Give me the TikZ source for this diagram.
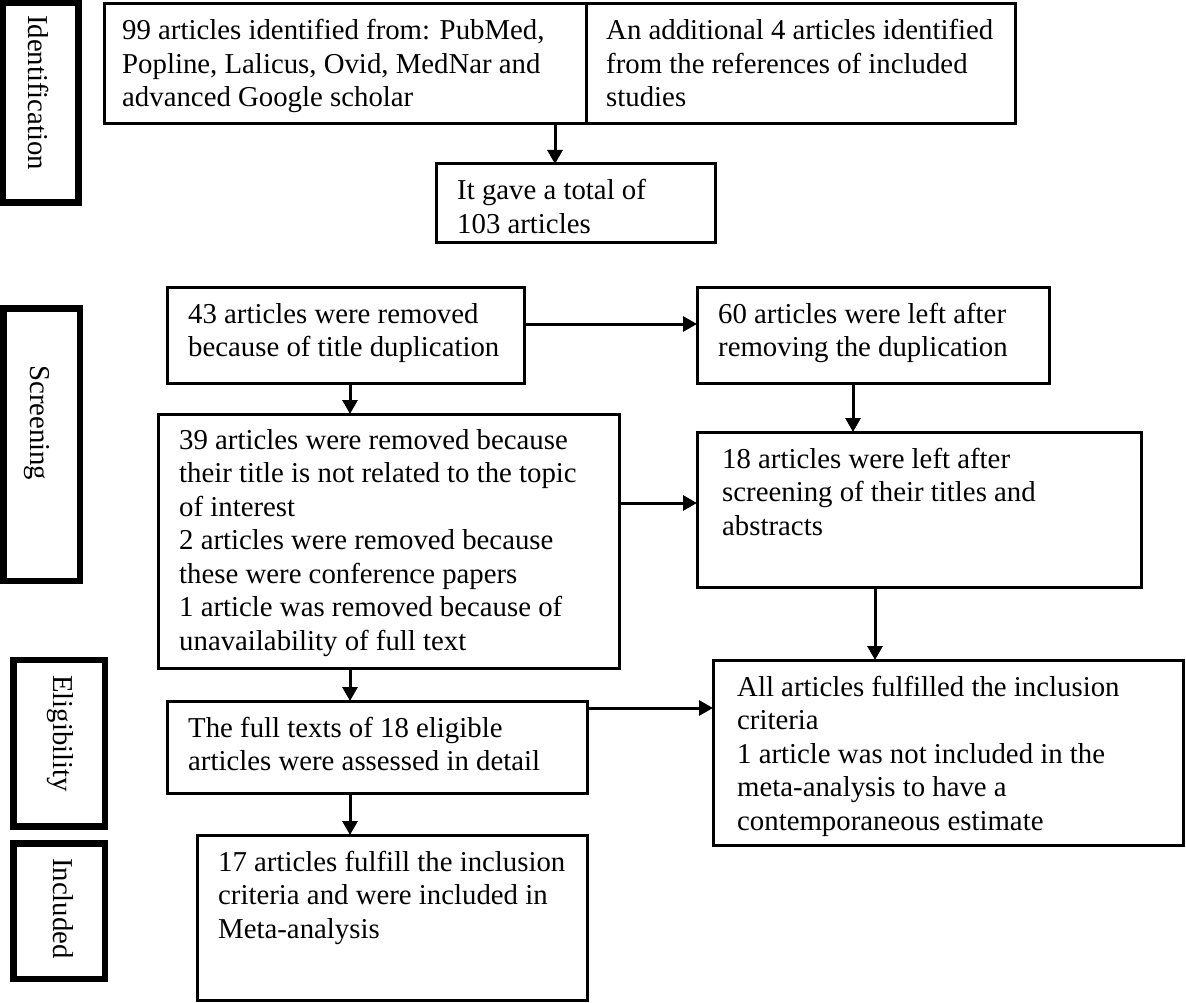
\documentclass[tikz,border=0pt]{standalone}
\usepackage{fontspec}
\setmainfont{Liberation Serif}
\usetikzlibrary{arrows.meta}
\newcommand{\ml}[1]{\begin{tabular}[t]{@{}l@{}}#1\end{tabular}}
\begin{document}
\begin{tikzpicture}[x=1pt,y=-1pt,
  font=\fontsize{28.8}{33.5}\selectfont,
  box/.style={draw, line width=3pt, rectangle, inner sep=0pt, outer sep=0pt},
  sidebox/.style={draw, line width=6.5pt, rectangle, inner sep=0pt, outer sep=0pt},
  txt/.style={anchor=base west, inner sep=0pt},
  side/.style={anchor=base west, inner sep=0pt, rotate=-90},
  arr/.style={line width=3pt, -{Triangle[length=14pt,width=15pt]}}]
\useasboundingbox (0,0) rectangle (1186,1003);

% side stage boxes
\node[sidebox, minimum width=76pt, minimum height=200pt] (sID) at (40.5,102.5) {};
\node[sidebox, minimum width=76.5pt, minimum height=272.5pt] (sSC) at (41.75,444.75) {};
\node[sidebox, minimum width=91.5pt, minimum height=166.5pt] (sEL) at (59.25,743.25) {};
\node[sidebox, minimum width=91.5pt, minimum height=135.5pt] (sIN) at (59.25,911.25) {};
\node[side] (lID) at (28,15) {Identification};
\node[side] (lSC) at (30,365) {Screening};
\node[side] (lEL) at (53,675) {Eligibility};
\node[side] (lIN) at (53,858) {Included};

% main boxes
\node[box, minimum width=482pt, minimum height=120pt] (B1) at (345,64) {};
\node[box, minimum width=429pt, minimum height=120pt] (B2) at (800.5,64) {};
\node[box, minimum width=279pt, minimum height=79pt] (B3) at (575.5,203.5) {};
\node[box, minimum width=357pt, minimum height=96pt] (B4) at (345.5,335) {};
\node[box, minimum width=352pt, minimum height=96pt] (B5) at (873,335) {};
\node[box, minimum width=461pt, minimum height=254pt] (B6) at (388.5,541) {};
\node[box, minimum width=444pt, minimum height=155pt] (B7) at (919,509.5) {};
\node[box, minimum width=470pt, minimum height=185pt] (B8) at (948,752.5) {};
\node[box, minimum width=420pt, minimum height=92pt] (B9) at (377,747) {};
\node[box, minimum width=390pt, minimum height=165pt] (B10) at (392,917.5) {};

% texts
\node[txt] (t1) at (122,40) {\ml{99 articles identified from: PubMed,\\Popline, Lalicus, Ovid, MedNar and\\advanced Google scholar}};
\node[txt] (t2) at (606,40) {\ml{An additional 4 articles identified\\from the references of included\\studies}};
\node[txt] (t3) at (457,200) {\ml{It gave a total of\\103 articles}};
\node[txt] (t4) at (188,323) {\ml{43 articles were removed\\because of title duplication}};
\node[txt] (t5) at (718,323) {\ml{60 articles were left after\\removing the duplication}};
\node[txt] (t6) at (179,449) {\ml{39 articles were removed because\\their title is not related to the topic\\of interest\\2 articles were removed because\\these were conference papers\\1 article was removed because of\\unavailability of full text}};
\node[txt] (t7) at (722,468) {\ml{18 articles were left after\\screening of their titles and\\abstracts}};
\node[txt] (t8) at (737,696) {\ml{All articles fulfilled the inclusion\\criteria\\1 article was not included in the\\meta-analysis to have a\\contemporaneous estimate}};
\node[txt] (t9) at (188,737) {\ml{The full texts of 18 eligible\\articles were assessed in detail}};
\node[txt] (t10) at (218,871) {\ml{17 articles fulfill the inclusion\\criteria and were included in\\Meta-analysis}};

% connector guides
\coordinate (xa) at (555,0);
\coordinate (xb) at (350,0);
\coordinate (xc) at (853,0);
\coordinate (xd) at (875,0);
\coordinate (ya) at (0,324);
\coordinate (yb) at (0,503);
\coordinate (yc) at (0,708);

\draw[arr] (B1.south -| xa) -- (B3.north -| xa);
\draw[arr] (B4.east |- ya) -- (B5.west |- ya);
\draw[arr] (B4.south -| xb) -- (B6.north -| xb);
\draw[arr] (B5.south -| xc) -- (B7.north -| xc);
\draw[arr] (B6.east |- yb) -- (B7.west |- yb);
\draw[arr] (B7.south -| xd) -- (B8.north -| xd);
\draw[arr] (B6.south -| xb) -- (B9.north -| xb);
\draw[arr] (B9.east |- yc) -- (B8.west |- yc);
\draw[arr] (B9.south -| xb) -- (B10.north -| xb);
\end{tikzpicture}
\end{document}
